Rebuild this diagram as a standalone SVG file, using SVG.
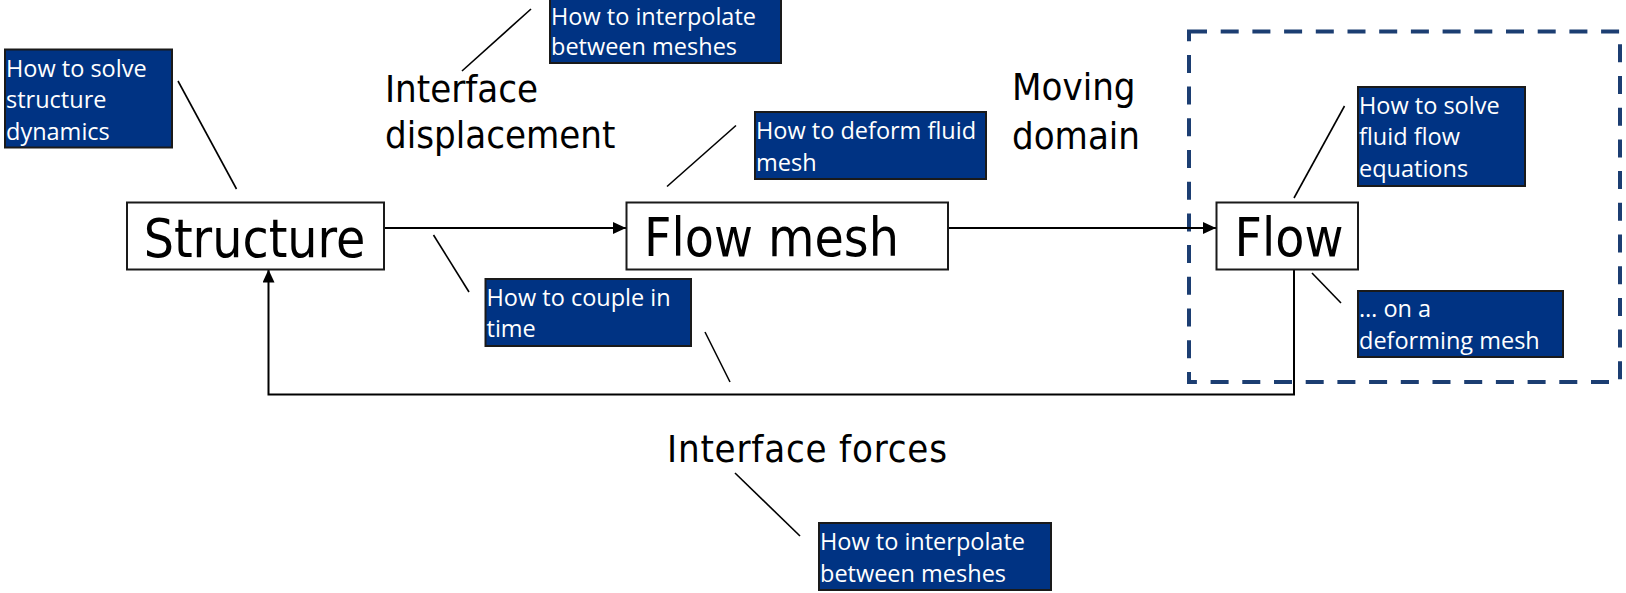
<svg xmlns="http://www.w3.org/2000/svg" width="1626" height="593" viewBox="0 0 1626 593">
  <defs>
    <marker id="arrow" markerUnits="userSpaceOnUse" markerWidth="14" markerHeight="12" refX="13" refY="6" orient="auto">
      <path d="M0,0 L13,6 L0,12 Z" fill="#000"/>
    </marker>
    <style>
      .block { fill: #fff; stroke: #1a1a1a; stroke-width: 2; }
      .block-label { font-family: "DejaVu Sans Condensed", "DejaVu Sans", sans-serif; font-stretch: condensed; font-size: 53px; fill: #000; text-anchor: middle; }
      .label { font-family: "DejaVu Sans Condensed", "DejaVu Sans", sans-serif; font-stretch: condensed; font-size: 38px; fill: #000; }
      .note { fill: #003383; stroke: #1a1a1a; stroke-width: 2; }
      .note-text { font-family: "Open Sans", sans-serif; font-size: 23.5px; fill: #fff; }
      .link { fill: none; stroke: #000; stroke-width: 2; }
      .leader { fill: none; stroke: #000; stroke-width: 1.6; }
      .scope { fill: none; stroke: #1c3e72; stroke-width: 4; stroke-dasharray: 18 13.7; }
    </style>
  </defs>

  <rect width="1626" height="593" fill="#fff"/>

  <!-- dashed boundary around the flow solver -->
  <rect id="flow-scope" class="scope" x="1189" y="31.5" width="431" height="350.5"/>

  <!-- connectors -->
  <g id="connectors">
    <path class="link" d="M384,228 H626" marker-end="url(#arrow)"/>
    <path class="link" d="M948,228 H1216" marker-end="url(#arrow)"/>
    <path class="link" d="M1294,269 V394.5 H268.5 V269.5" marker-end="url(#arrow)"/>
  </g>

  <!-- leader lines from annotations -->
  <g id="leaders">
    <line class="leader" x1="178" y1="81" x2="236.5" y2="189"/>
    <line class="leader" x1="531" y1="9" x2="462" y2="71"/>
    <line class="leader" x1="736" y1="125.5" x2="667" y2="186.5"/>
    <line class="leader" x1="433.5" y1="235" x2="469" y2="292"/>
    <line class="leader" x1="705" y1="332" x2="730" y2="382"/>
    <line class="leader" x1="1344.5" y1="106" x2="1294" y2="198"/>
    <line class="leader" x1="1312" y1="273" x2="1341" y2="303"/>
    <line class="leader" x1="735" y1="473" x2="800" y2="536"/>
  </g>

  <!-- main blocks -->
  <g id="structure">
    <rect class="block" x="127" y="202.5" width="257" height="67"/>
    <text class="block-label" x="254.5" y="257">Structure</text>
  </g>
  <g id="flow-mesh">
    <rect class="block" x="626.5" y="202.5" width="321.5" height="67"/>
    <text class="block-label" x="771.5" y="256">Flow mesh</text>
  </g>
  <g id="flow">
    <rect class="block" x="1216.5" y="202.5" width="141.5" height="67"/>
    <text class="block-label" x="1289" y="256">Flow</text>
  </g>

  <!-- quantities exchanged -->
  <g id="interface-displacement">
    <text class="label" x="385" y="101.5">Interface</text>
    <text class="label" x="385" y="148">displacement</text>
  </g>
  <g id="moving-domain">
    <text class="label" x="1012" y="100">Moving</text>
    <text class="label" x="1012" y="149">domain</text>
  </g>
  <g id="interface-forces">
    <text class="label" x="667" y="461.5" font-size="38.5" textLength="280" lengthAdjust="spacing">Interface forces</text>
  </g>

  <!-- annotation notes -->
  <g id="note-structure-dynamics">
    <rect class="note" x="5" y="49.5" width="167" height="98"/>
    <text class="note-text" x="6" y="76.5">How to solve</text>
    <text class="note-text" x="6" y="108">structure</text>
    <text class="note-text" x="6" y="139.5">dynamics</text>
  </g>
  <g id="note-interpolate-displacement">
    <rect class="note" x="550" y="-2" width="231" height="65"/>
    <text class="note-text" x="551" y="25">How to interpolate</text>
    <text class="note-text" x="551" y="55">between meshes</text>
  </g>
  <g id="note-deform-mesh">
    <rect class="note" x="755" y="112" width="231" height="67"/>
    <text class="note-text" x="756" y="139">How to deform fluid</text>
    <text class="note-text" x="756" y="170.5">mesh</text>
  </g>
  <g id="note-couple-time">
    <rect class="note" x="485.5" y="279" width="205.5" height="67"/>
    <text class="note-text" x="486.5" y="305.5">How to couple in</text>
    <text class="note-text" x="486.5" y="337">time</text>
  </g>
  <g id="note-fluid-equations">
    <rect class="note" x="1358" y="87" width="167" height="99"/>
    <text class="note-text" x="1359" y="113.5">How to solve</text>
    <text class="note-text" x="1359" y="145">fluid flow</text>
    <text class="note-text" x="1359" y="176.5">equations</text>
  </g>
  <g id="note-deforming-mesh">
    <rect class="note" x="1358" y="291" width="205" height="66"/>
    <text class="note-text" x="1359" y="317">… on a</text>
    <text class="note-text" x="1359" y="348.5">deforming mesh</text>
  </g>
  <g id="note-interpolate-forces">
    <rect class="note" x="819" y="523" width="232" height="67"/>
    <text class="note-text" x="820" y="550">How to interpolate</text>
    <text class="note-text" x="820" y="581.5">between meshes</text>
  </g>
</svg>
